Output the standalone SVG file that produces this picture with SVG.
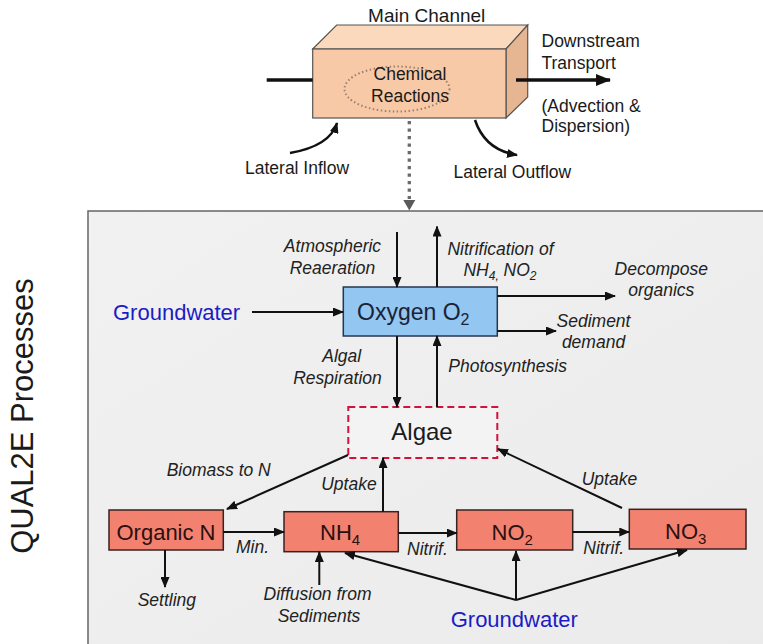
<svg xmlns="http://www.w3.org/2000/svg" width="763" height="644" viewBox="0 0 763 644">
<defs>
<marker id="ah" markerWidth="11" markerHeight="9" refX="10" refY="4.5" orient="auto" markerUnits="userSpaceOnUse"><path d="M0,0 L11,4.5 L0,9 z" fill="#111"/></marker>
<marker id="ahb" markerWidth="15" markerHeight="12" refX="14" refY="6" orient="auto" markerUnits="userSpaceOnUse"><path d="M0,0 L15,6 L0,12 z" fill="#111"/></marker>
<linearGradient id="pg" x1="0" y1="0" x2="1" y2="1"><stop offset="0" stop-color="#f1f1f1"/><stop offset="1" stop-color="#ebebeb"/></linearGradient>
</defs>
<style>
text{font-family:"Liberation Sans",Arial,sans-serif;fill:#1a1a1a}
.top{font-size:17.5px}
.it{font-size:17.5px;font-style:italic;fill:#222}
.box{font-size:22px;fill:#2a1010}
.gw{font-size:22px;fill:#1c1cc4}
.c{stroke:#111;stroke-width:2;fill:none;marker-end:url(#ah)}
.cb{stroke:#111;stroke-width:3.5;fill:none}
.salmon{fill:#f2826f;stroke:#3a2222;stroke-width:1.5}
</style>

<g id="panel">
<rect x="88" y="211" width="690" height="450" fill="url(#pg)" stroke="#666" stroke-width="1.5"/>
</g>

<g id="main-channel">
<polygon points="312.7,49 336.7,25 527.7,25 506,49" fill="#fbd9bd" stroke="#555" stroke-width="1.2"/>
<polygon points="506,49 527.7,25 527.7,97 506,118" fill="#e6b592" stroke="#555" stroke-width="1.2"/>
<rect x="312.7" y="49" width="193.3" height="69" fill="#f8c9a6" stroke="#555" stroke-width="1.2"/>
<ellipse cx="397" cy="89" rx="52.5" ry="22.5" fill="none" stroke="#9a8070" stroke-width="2" stroke-dasharray="1.5,2.5"/>
<text class="top" x="410" y="80" text-anchor="middle">Chemical</text>
<text class="top" x="410" y="102" text-anchor="middle">Reactions</text>
<text class="top" x="426.7" y="22" text-anchor="middle" style="font-size:19px">Main Channel</text>
</g>

<g id="top-labels">
<text class="top" x="541.5" y="47">Downstream</text>
<text class="top" x="541.5" y="68.5">Transport</text>
<text class="top" x="541.5" y="112">(Advection &amp;</text>
<text class="top" x="541.5" y="132">Dispersion)</text>
<text class="top" x="245" y="174">Lateral Inflow</text>
<text class="top" x="453.5" y="178">Lateral Outflow</text>
</g>

<g id="top-connectors">
<line class="cb" x1="266.7" y1="80" x2="312.7" y2="80"/>
<line class="cb" x1="516" y1="80" x2="610" y2="80" marker-end="url(#ahb)"/>
<path d="M290,153 Q330,146 337,123" stroke="#111" stroke-width="2.5" fill="none" marker-end="url(#ah)"/>
<path d="M475,120 Q485,150 517,155" stroke="#111" stroke-width="2.5" fill="none" marker-end="url(#ah)"/>
<line x1="409.3" y1="121" x2="409.3" y2="199" stroke="#6a6a6a" stroke-width="3.3" stroke-dasharray="3.3,4.2"/>
<polygon points="403.3,200 415.3,200 409.3,210.5" fill="#5a5a5a"/>
</g>

<g id="side-title">
<text x="33" y="416" font-size="31" text-anchor="middle" transform="rotate(-90 33 416)" style="fill:#1a1a1a">QUAL2E Processes</text>
</g>

<g id="oxygen">
<rect x="343.3" y="287" width="154" height="49" fill="#93c6f1" stroke="#26364e" stroke-width="1.5"/>
<text class="box" x="357" y="320" style="fill:#1b2236;font-size:23px">Oxygen O<tspan dy="5" font-size="16">2</tspan></text>
</g>

<g id="algae">
<rect x="348.3" y="407" width="149" height="51" fill="#f3f3f3" stroke="#d0123c" stroke-width="2" stroke-dasharray="7,4"/>
<text x="422" y="439.5" font-size="24" text-anchor="middle">Algae</text>
</g>

<g id="organic-n">
<rect class="salmon" x="109" y="510" width="114.3" height="40"/>
<text class="box" x="166" y="539.5" text-anchor="middle">Organic N</text>
</g>

<g id="nh4">
<rect class="salmon" x="284" y="511.7" width="114.3" height="40"/>
<text class="box" x="320" y="540">NH<tspan dy="5" font-size="15">4</tspan></text>
</g>

<g id="no2">
<rect class="salmon" x="456.7" y="510" width="116" height="40"/>
<text class="box" x="491.5" y="540">NO<tspan dy="5" font-size="15">2</tspan></text>
</g>

<g id="no3">
<rect class="salmon" x="629.3" y="509.3" width="116.7" height="39.7"/>
<text class="box" x="665" y="539.3">NO<tspan dy="5" font-size="15">3</tspan></text>
</g>

<g id="labels">
<text class="gw" x="113" y="320">Groundwater</text>
<text class="gw" x="450.7" y="627">Groundwater</text>
<text class="it" x="332.5" y="252" text-anchor="middle">Atmospheric</text>
<text class="it" x="332.5" y="273.5" text-anchor="middle">Reaeration</text>
<text class="it" x="500.5" y="254.5" text-anchor="middle">Nitrification of</text>
<text class="it" x="500" y="276" text-anchor="middle">NH<tspan dy="4" font-size="12">4,</tspan><tspan dy="-4"> NO</tspan><tspan dy="4" font-size="12">2</tspan></text>
<text class="it" x="661.3" y="274.5" text-anchor="middle">Decompose</text>
<text class="it" x="661.3" y="296" text-anchor="middle">organics</text>
<text class="it" x="593.5" y="327" text-anchor="middle">Sediment</text>
<text class="it" x="593.5" y="348" text-anchor="middle">demand</text>
<text class="it" x="341.7" y="362" text-anchor="middle">Algal</text>
<text class="it" x="337.5" y="383.5" text-anchor="middle">Respiration</text>
<text class="it" x="448.3" y="372">Photosynthesis</text>
<text class="it" x="166.7" y="476">Biomass to N</text>
<text class="it" x="376.7" y="489.5" text-anchor="end">Uptake</text>
<text class="it" x="581.7" y="485">Uptake</text>
<text class="it" x="236" y="553">Min.</text>
<text class="it" x="407" y="555">Nitrif.</text>
<text class="it" x="583.3" y="553.5">Nitrif.</text>
<text class="it" x="137.7" y="606">Settling</text>
<text class="it" x="317.5" y="600" text-anchor="middle">Diffusion from</text>
<text class="it" x="319" y="622" text-anchor="middle">Sediments</text>
</g>

<g id="connectors">
<line class="c" x1="252" y1="312" x2="343" y2="312"/>
<line class="c" x1="397" y1="232" x2="397" y2="287"/>
<line class="c" x1="437" y1="287" x2="437" y2="226.5"/>
<line class="c" x1="497.3" y1="296" x2="615" y2="296"/>
<line class="c" x1="497.3" y1="331" x2="556" y2="331"/>
<line class="c" x1="397" y1="336" x2="397" y2="407"/>
<line class="c" x1="437" y1="407" x2="437" y2="336"/>
<line class="c" x1="348" y1="455" x2="227" y2="509"/>
<line class="c" x1="383" y1="511.7" x2="383" y2="458"/>
<line class="c" x1="622" y1="508" x2="498" y2="449"/>
<line class="c" x1="223.3" y1="532" x2="284" y2="532"/>
<line class="c" x1="398.3" y1="533" x2="456.7" y2="533"/>
<line class="c" x1="572.7" y1="532" x2="629.3" y2="532"/>
<line class="c" x1="165" y1="550" x2="165" y2="587"/>
<line class="c" x1="319.3" y1="585" x2="319.3" y2="552"/>
<line class="c" x1="516" y1="600" x2="345" y2="553"/>
<line class="c" x1="516" y1="600" x2="516" y2="551"/>
<line class="c" x1="516" y1="600" x2="687" y2="550"/>
</g>
</svg>
